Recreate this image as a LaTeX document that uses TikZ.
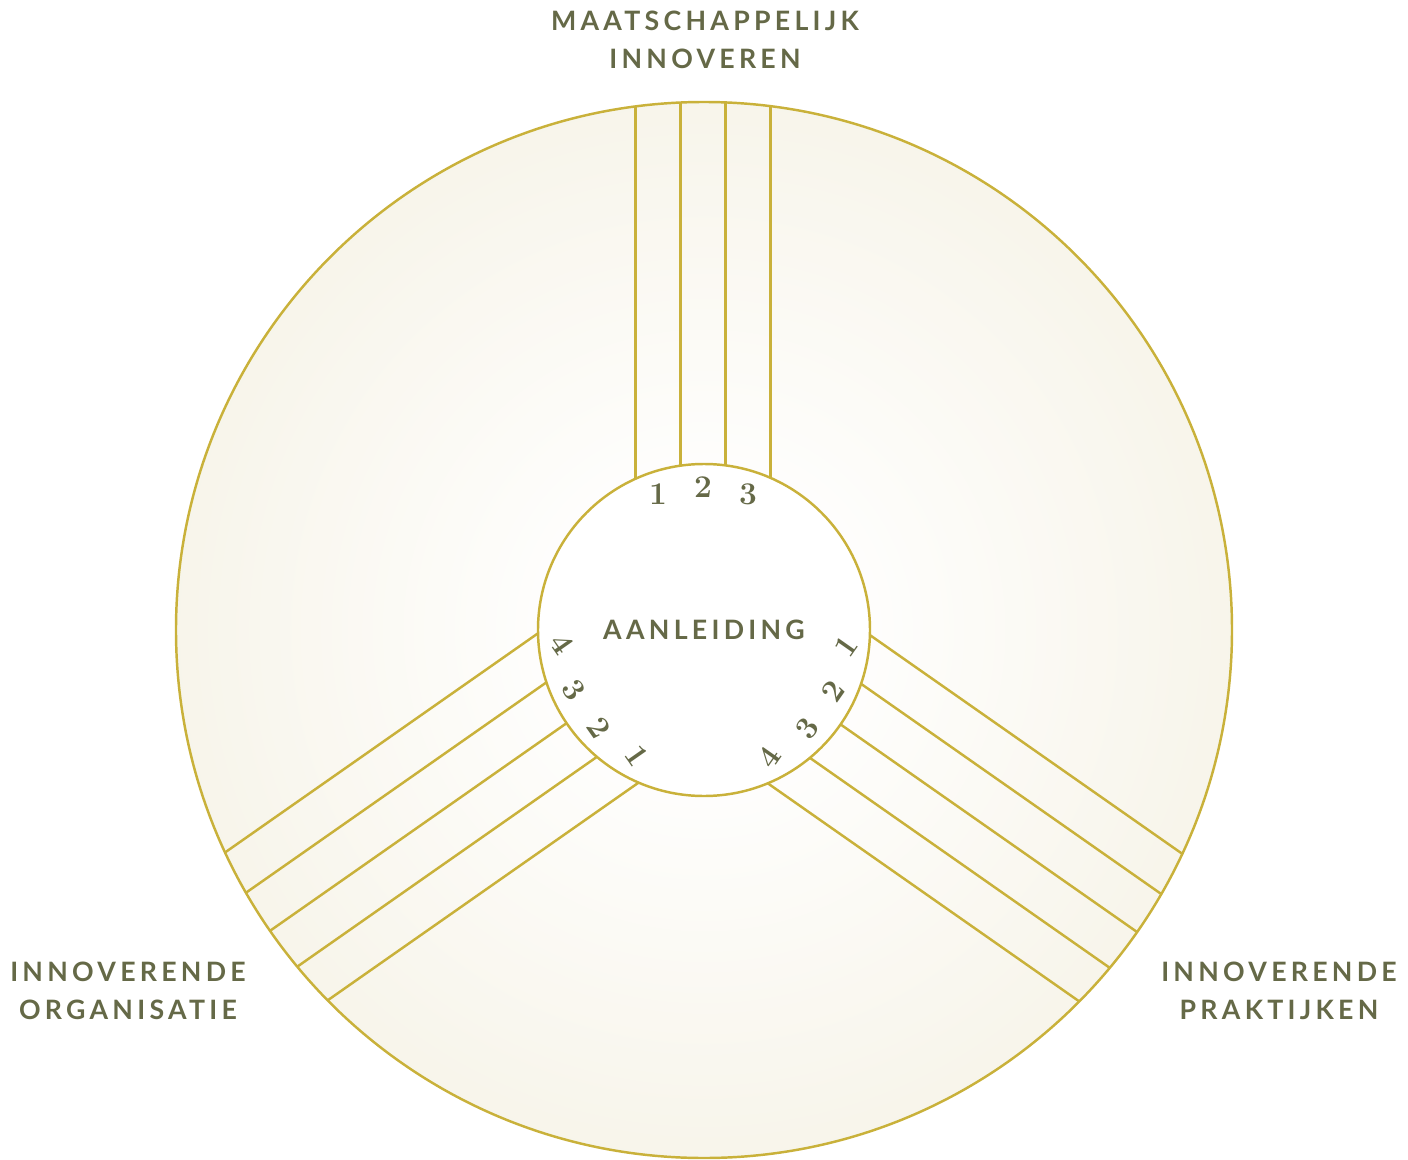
\documentclass[tikz,border=0pt]{standalone}
\usepackage{fontspec}
\newfontfamily\capsfont[LetterSpace=16]{Lato}

\definecolor{ringgold}{HTML}{C9B13A}
\definecolor{labelgreen}{HTML}{656947}
\definecolor{discbeige}{HTML}{F1ECD9}
\pgfdeclareradialshading{disc}{\pgfpoint{0bp}{0bp}}{color(0bp)=(white); color(5bp)=(white); color(42bp)=(discbeige); color(50bp)=(discbeige)}

\begin{document}
\begin{tikzpicture}[x=2mm,y=2mm,
  band/.style={draw=ringgold,line width=1.4pt},
  title/.style={text=labelgreen,font=\capsfont\bfseries\fontsize{15.2}{21.5}\selectfont,align=center},
  num/.style={text=labelgreen,font=\bfseries\fontsize{18}{18}\selectfont,inner sep=0pt}]

  % Frame of the whole picture
  \useasboundingbox (-70.4,-52.9) rectangle (70.4,63.0);

  % Outer disc with soft radial fill
  \shade[shading=disc] (0,0) circle (52.8);

  % Top band (three strips)
  \foreach \d in {-6.85,-2.35,2.15,6.65}
    \draw[band] ({\d},{sqrt(16.6*16.6-\d*\d)}) -- ({\d},{sqrt(52.8*52.8-\d*\d)});

  % Right band (four strips)
  \begin{scope}[rotate=-35]
    \foreach \d in {9.1,4.6,0.1,-4.4,-8.9}
      \draw[band] ({sqrt(16.6*16.6-\d*\d)},\d) -- ({sqrt(52.8*52.8-\d*\d)},\d);
  \end{scope}

  % Left band (four strips)
  \begin{scope}[rotate=215]
    \foreach \d in {-9.25,-4.75,-0.25,4.25,8.75}
      \draw[band] ({sqrt(16.6*16.6-\d*\d)},\d) -- ({sqrt(52.8*52.8-\d*\d)},\d);
  \end{scope}

  % Outer ring on top of the band ends
  \draw[band] (0,0) circle (52.8);

  % Centre circle
  \node[circle,fill=white,band,minimum size=66.4mm,inner sep=0pt,title] (core) at (0,0) {AANLEIDING};

  % Strip numbers
  \foreach \d/\n in {-4.6/1,-0.1/2,4.4/3}
    \node[num] (top\n) at ({\d},{sqrt(14.3*14.3-\d*\d)}) {\n};
  \begin{scope}[rotate=-35]
    \foreach \d/\n in {6.85/1,2.35/2,-2.15/3,-6.65/4}
      \node[num,rotate=55] (right\n) at ({sqrt(14.3*14.3-\d*\d)},\d) {\n};
  \end{scope}
  \begin{scope}[rotate=215]
    \foreach \d/\n in {-7.0/4,-2.5/3,2.0/2,6.5/1}
      \node[num,rotate=-55] (left\n) at ({sqrt(14.3*14.3-\d*\d)},\d) {\n};
  \end{scope}

  % Outer labels
  \node[title] (society) at (0.1,59.0) {MAATSCHAPPELIJK\\INNOVEREN};
  \node[title] (organisation) at (-57.6,-36.1) {INNOVERENDE\\ORGANISATIE};
  \node[title] (practice) at (57.5,-36.1) {INNOVERENDE\\PRAKTIJKEN};

\end{tikzpicture}
\end{document}
